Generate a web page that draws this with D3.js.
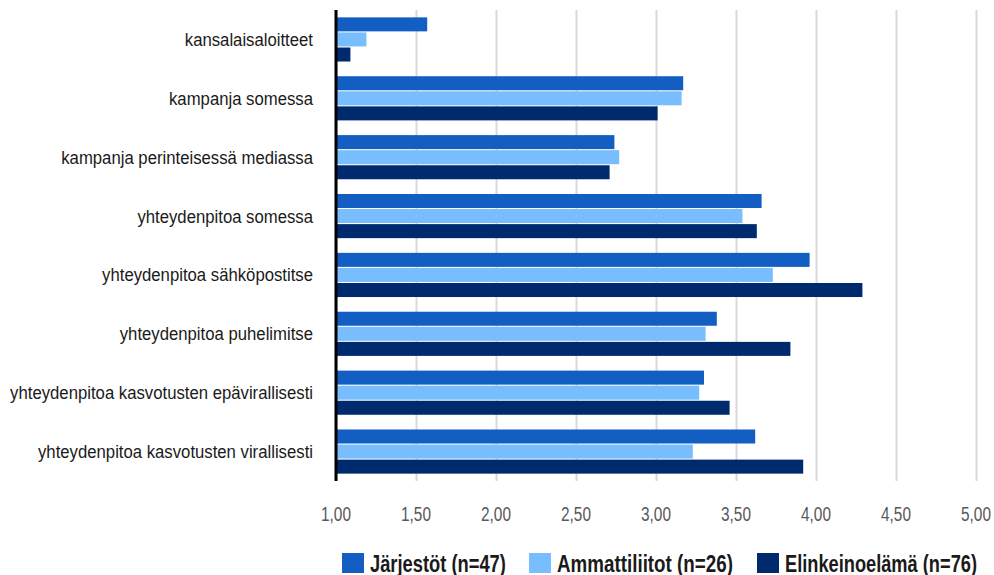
<!DOCTYPE html>
<html>
<head>
<meta charset="utf-8">
<script src="https://cdn.jsdelivr.net/npm/d3@7"></script>
<style>
  body { margin: 0; background: #fff; }
  svg text { font-family: "Liberation Sans", Arial, sans-serif; }
</style>
</head>
<body>
<svg class="chart"></svg>
<script>
const categories = [
  'kansalaisaloitteet',
  'kampanja somessa',
  'kampanja perinteisessä mediassa',
  'yhteydenpitoa somessa',
  'yhteydenpitoa sähköpostitse',
  'yhteydenpitoa puhelimitse',
  'yhteydenpitoa kasvotusten epävirallisesti',
  'yhteydenpitoa kasvotusten virallisesti'
];
const seriesNames = ['Järjestöt (n=47)', 'Ammattiliitot (n=26)', 'Elinkeinoelämä (n=76)'];
const jarjestot = [1.57, 3.17, 2.74, 3.66, 3.96, 3.38, 3.30, 3.62];
const ammattiliitot = [1.19, 3.16, 2.77, 3.54, 3.73, 3.31, 3.27, 3.23];
const elinkeinoelama = [1.09, 3.01, 2.71, 3.63, 4.29, 3.84, 3.46, 3.92];
const ticks = [1, 1.5, 2, 2.5, 3, 3.5, 4, 4.5, 5];
const colors = ['#125ec2', '#78bdfd', '#002a6e'];

const width = 994, height = 575;
const marginLeft = 336, marginRight = 18, marginTop = 10, plotBottom = 481;

const svg = d3.select('.chart').attr('width', width).attr('height', height);

const x = d3.scaleLinear().domain([1, 5]).range([marginLeft, width - marginRight]);
const y = d3.scaleBand().domain(categories).range([marginTop, plotBottom]).paddingInner(0.25).paddingOuter(0.125);
const ySub = d3.scaleBand().domain(seriesNames).range([0, y.bandwidth()]).paddingInner(0.07);

// the reference uses a condensed face, so squeeze text horizontally
function squeeze(node, target) {
  return target / node.getComputedTextLength();
}

// gridlines
const xAxis = d3.axisBottom(x).tickValues(ticks).tickSize(-(plotBottom - marginTop)).tickFormat('');
const gx = svg.append('g').attr('transform', `translate(0,${plotBottom})`).call(xAxis);
gx.select('.domain').remove();
gx.selectAll('.tick line').attr('stroke', '#d9d9d9').attr('stroke-width', 2);

// tick labels
const tickFmt = d => d3.format('.2f')(d).replace('.', ',');
const tl = svg.append('g').selectAll('text').data(ticks).enter().append('text')
  .attr('text-anchor', 'middle').attr('font-size', 21).attr('fill', '#595959')
  .text(tickFmt);
const tsx = squeeze(tl.node(), 30);
tl.attr('transform', d => `translate(${x(d)},521) scale(${tsx},1)`);

// bars
const rows = categories.map((c, i) => ({ cat: c, vals: [jarjestot[i], ammattiliitot[i], elinkeinoelama[i]] }));
const group = svg.selectAll('g.row').data(rows).enter().append('g')
  .attr('class', 'row').attr('transform', d => `translate(0,${y(d.cat)})`);
group.selectAll('rect').data(d => d.vals.map((v, j) => ({ v, s: seriesNames[j], j })))
  .enter().append('rect')
  .attr('x', x(1))
  .attr('y', d => ySub(d.s))
  .attr('width', d => x(d.v) - x(1))
  .attr('height', ySub.bandwidth())
  .attr('fill', d => colors[d.j]);

// category labels
const cl = svg.append('g').selectAll('text').data(categories).enter().append('text')
  .attr('dy', '0.35em')
  .attr('text-anchor', 'end')
  .attr('font-size', 18.5)
  .attr('fill', '#1a1a1a')
  .text(d => d);
const csx = squeeze(cl.nodes()[6], 303);
cl.attr('transform', d => `translate(${marginLeft - 23},${y(d) + y.bandwidth() / 2}) scale(${csx},1)`);

// left axis line
svg.append('line').attr('x1', x(1)).attr('x2', x(1)).attr('y1', marginTop).attr('y2', plotBottom)
  .attr('stroke', '#000').attr('stroke-width', 3);

// legend
const legendX = [342, 529, 757];
const legendW = [136, 176, 192];
const lg = svg.append('g').selectAll('g').data(seriesNames).enter().append('g')
  .attr('transform', (d, i) => `translate(${legendX[i]},553)`);
lg.append('rect').attr('width', 22).attr('height', 20).attr('fill', (d, i) => colors[i]);
lg.append('text')
  .attr('font-size', 23).attr('font-weight', 'bold').attr('fill', '#1a1a1a').text(d => d)
  .each(function (d, i) {
    const s = squeeze(this, legendW[i]);
    d3.select(this).attr('transform', `translate(28,19) scale(${s},1)`);
  });
</script>
</body>
</html>
